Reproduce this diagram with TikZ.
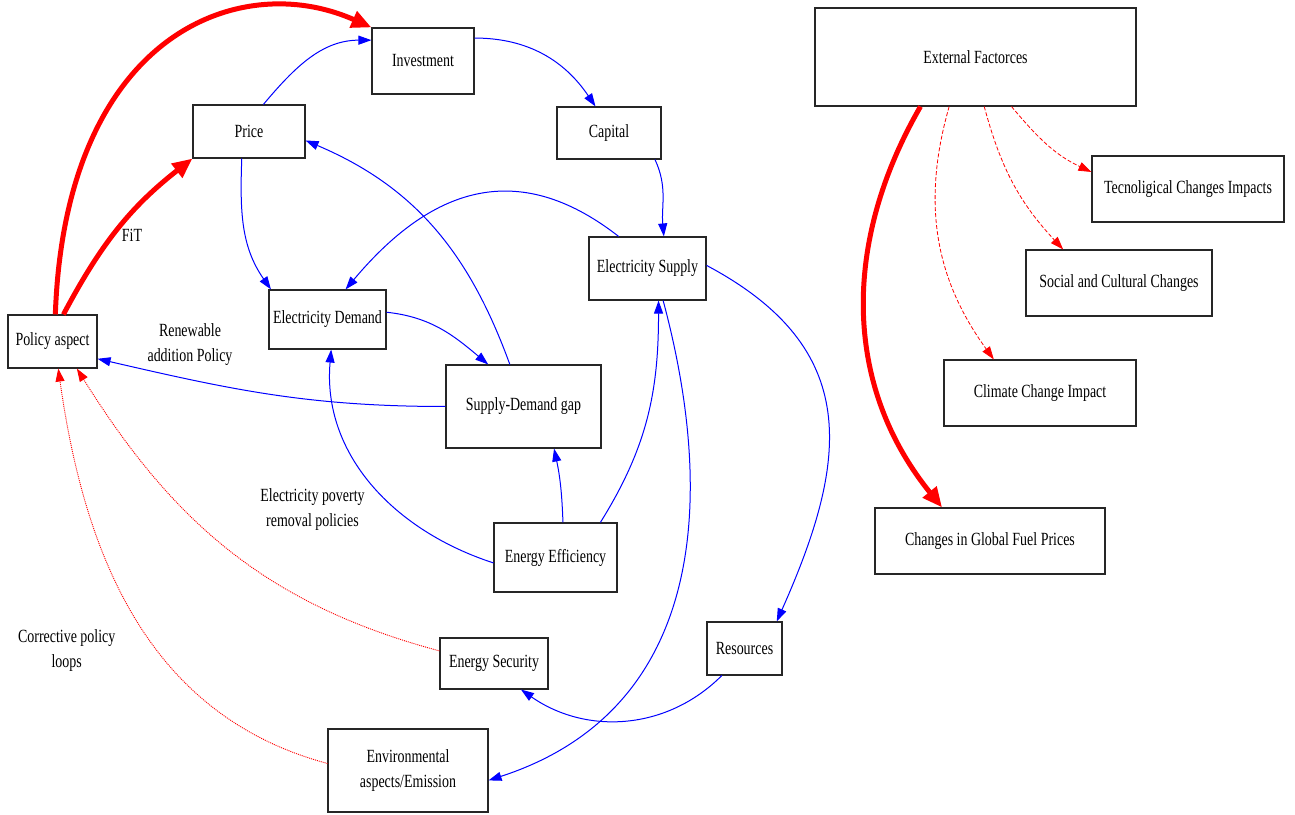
\documentclass[tikz,border=0pt]{standalone}
\usepackage{fontspec}
\setmainfont{Liberation Serif}[FakeStretch=0.75]
\usetikzlibrary{arrows.meta}

\begin{document}
\begin{tikzpicture}[x=1pt,y=1pt,
        font=\fontsize{18.6}{25}\selectfont,
        box/.style={draw=black!85,line width=1.1pt,inner sep=0pt,align=center},
        link/.style={blue,line width=1pt,-{Triangle[length=13pt,width=9pt]}},
        push/.style={red,line width=5pt,-{Triangle[length=20pt,width=17pt]}},
        ext/.style={red,line width=0.8pt,dash pattern=on 4pt off 2pt,-{Triangle[length=13pt,width=9pt]}},
        loopback/.style={red,line width=0.9pt,dash pattern=on 1pt off 1pt,-{Triangle[length=13pt,width=9pt]}}]
    \useasboundingbox (0,0) rectangle (1295,814);

    \node[box,minimum width=102pt,minimum height=66pt] (invest) at (423,753) {Investment};
    \node[box,minimum width=112pt,minimum height=53pt] (price) at (249,682.5) {Price};
    \node[box,minimum width=104pt,minimum height=52pt] (capital) at (609,681) {Capital};
    \node[box,minimum width=117pt,minimum height=63pt] (supply) at (647.5,545.5) {Electricity Supply};
    \node[box,minimum width=117pt,minimum height=59pt] (demand) at (327.5,494.5) {Electricity Demand};
    \node[box,minimum width=89pt,minimum height=53pt] (policy) at (52.5,472.5) {Policy aspect};
    \node[box,minimum width=155pt,minimum height=83pt] (gap) at (523.5,407.5) {Supply-Demand gap};
    \node[box,minimum width=123pt,minimum height=69pt] (effic) at (555.5,256.5) {Energy Efficiency};
    \node[box,minimum width=108pt,minimum height=51pt] (security) at (494,150.5) {Energy Security};
    \node[box,minimum width=75pt,minimum height=53pt] (resources) at (744.5,165.5) {Resources};
    \node[box,minimum width=160pt,minimum height=83pt] (env) at (408,43.5) {Environmental\\aspects/Emission};

    \node[box,minimum width=321pt,minimum height=98pt] (external) at (975.5,757) {External Factorces};
    \node[box,minimum width=192pt,minimum height=66pt] (tech) at (1188,625) {Tecnoligical Changes Impacts};
    \node[box,minimum width=186pt,minimum height=66pt] (social) at (1119,531) {Social and Cultural Changes};
    \node[box,minimum width=192pt,minimum height=66pt] (climate) at (1040,421) {Climate Change Impact};
    \node[box,minimum width=230pt,minimum height=66pt] (fuel) at (990,273) {Changes in Global Fuel Prices};

    \node (fit) at (132,579) {FiT};
    \node[align=center] (renew) at (190,469) {Renewable\\addition Policy};
    \node[align=center] (poverty) at (312.5,304) {Electricity poverty\\removal policies};
    \node[align=center] (corrective) at (66.7,163) {Corrective policy\\loops};

    \draw[push] (policy.84) .. controls +(88:280) and +(156:145) .. (invest.north west);
    \draw[push] (policy.68) to[out=62,in=218] (price.south west);
    \draw[link] (price.62) to[out=50,in=180] (invest.158);
    \draw[link] (invest.24) to[out=0,in=124] (capital.117);
    \draw[link] (price.255) to[out=268,in=125] (demand.152);
    \draw[link] (capital.330) to[out=-65,in=95] (supply.63);
    \draw[link] (supply.132) to[out=142,in=50,looseness=1.2] (demand.59);
    \draw[link] (gap.108) to[out=110,in=-23] (price.351);
    \draw[link] (demand.7) to[out=-6,in=140] (gap.130);
    \draw[link] (gap.west) to[out=180,in=-13] (policy.339);
    \draw[link] (effic.185) to[out=162,in=-95] (demand.277);
    \draw[link] (effic.78) to[out=92,in=-78] (gap.306);
    \draw[link] (effic.38) to[out=58,in=-90] (supply.289);
    \draw[link] (supply.3) to[out=-28,in=66,looseness=1.25] (resources.40);
    \draw[link] (supply.296) to[out=-75,in=18,looseness=1.1] (env.353);
    \draw[link] (resources.230) to[out=-135,in=-35] (security.316);
    \draw[loopback] (security.167) to[out=165,in=-58] (policy.312);
    \draw[loopback] (env.175) to[out=165,in=-82] (policy.282);

    \draw[ext] (external.306) to[out=-50,in=155] (tech.170);
    \draw[ext] (external.280) to[out=-75,in=133] (social.149);
    \draw[ext] (external.242) to[out=-106,in=126] (climate.144);
    \draw[push] (external.222) to[out=-120,in=129] (fuel.145);
\end{tikzpicture}
\end{document}
